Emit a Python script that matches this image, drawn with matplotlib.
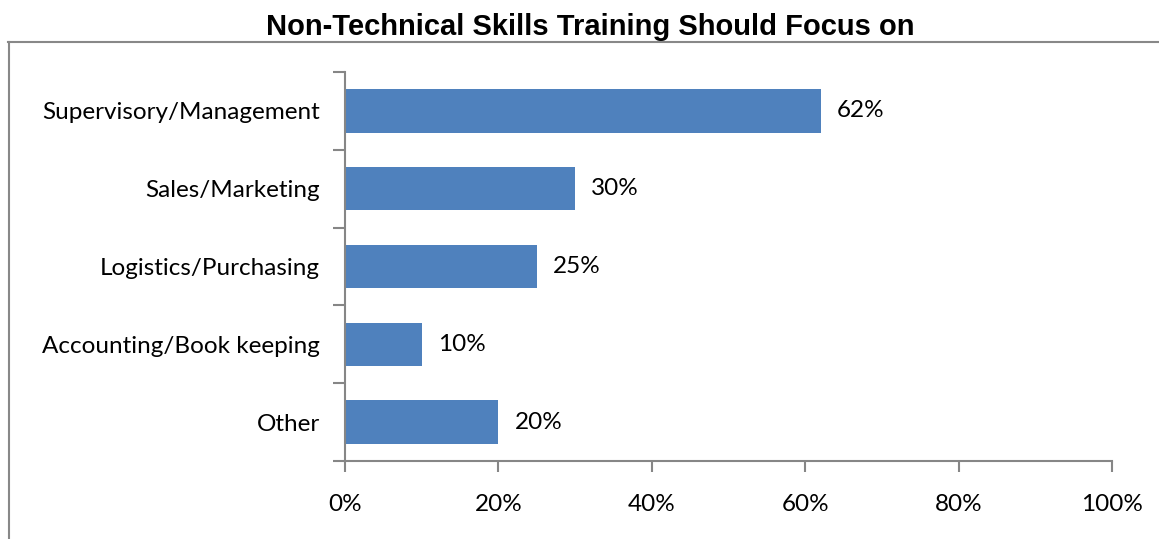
import matplotlib.pyplot as plt
from matplotlib.lines import Line2D

categories = ["Supervisory/Management", "Sales/Marketing", "Logistics/Purchasing",
              "Accounting/Book keeping", "Other"]
values = [62, 30, 25, 10, 20]
x_ticks = [0, 20, 40, 60, 80, 100]

W, H = 1159, 539
axis_grey = "#868686"
label_font = ["Lato", "DejaVu Sans"]
fs = 17.5

fig = plt.figure(figsize=(W / 100, H / 100), dpi=100)
ax = fig.add_axes([345 / W, 1 - 461 / H, (1112 - 345) / W, (461 - 72) / H])

pos = list(range(len(categories)))
ax.barh(pos, values, height=0.56, color="#4F81BD")
for p, v in zip(pos, values):
    ax.annotate(f"{v}%", (v, p), xytext=(16, 0), textcoords="offset pixels",
                va="center", ha="left", fontsize=fs, family=label_font)

ax.set_xlim(0, 100)
ax.set_ylim(len(categories) - 0.5, -0.5)
ax.set_xticks(x_ticks)
ax.set_xticklabels([f"{t}%" for t in x_ticks], fontsize=fs, family=label_font)
ax.set_yticks(pos)
ax.set_yticklabels(categories, fontsize=fs, family=label_font)
ax.tick_params(axis="y", length=0, pad=18)
ax.tick_params(axis="x", length=8, color=axis_grey, width=1.5, pad=16)

# category boundary ticks on the y axis
ax.set_yticks([i - 0.5 for i in range(len(categories) + 1)], minor=True)
ax.tick_params(axis="y", which="minor", length=9, color=axis_grey, width=1.5)

for side in ("top", "right"):
    ax.spines[side].set_visible(False)
for side in ("left", "bottom"):
    ax.spines[side].set_color(axis_grey)
    ax.spines[side].set_linewidth(1.5)

fig.text(590 / W, 1 - 27 / H, "Non-Technical Skills Training Should Focus on",
         ha="center", va="center", fontsize=21, fontweight="bold",
         family="Liberation Sans")

# outer chart frame (only top and left visible)
fig.add_artist(Line2D([8.5 / W, 8.5 / W], [0, 1 - 42 / H], color="#888888", lw=1.5))
fig.add_artist(Line2D([8 / W, 1], [1 - 42 / H, 1 - 42 / H], color="#888888", lw=1.5))

fig.savefig("out.png", dpi=100)
